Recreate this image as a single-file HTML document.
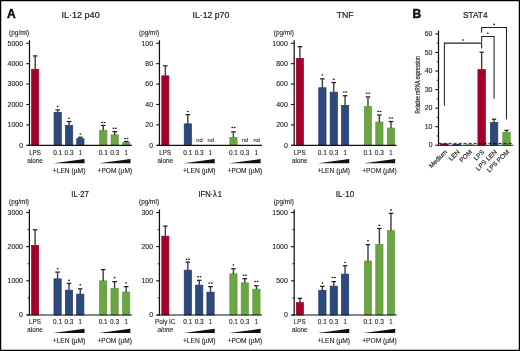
<!DOCTYPE html>
<html><head><meta charset="utf-8"><style>
html,body{margin:0;padding:0;background:#fff;}
svg{display:block;will-change:transform;font-family:"Liberation Sans", sans-serif;}
text{stroke:#1a1a1a;stroke-width:0.1px;paint-order:stroke;}
</style></head><body>
<svg width="520" height="351" viewBox="0 0 520 351">
<rect x="0" y="0" width="520" height="351" fill="#fff"/>
<text x="61.40" y="17.70" font-size="9" text-anchor="start" textLength="38.30" lengthAdjust="spacingAndGlyphs" fill="#1a1a1a" style="stroke-width:0.2px">IL·12 p40</text>
<text x="9.10" y="34.95" font-size="6.4" text-anchor="start" textLength="20.00" lengthAdjust="spacingAndGlyphs" fill="#1a1a1a">(pg/ml)</text>
<rect x="31.65" y="69.25" width="7.10" height="76.05" fill="#a3002a" stroke="#9c0027" stroke-width="0.7"/>
<line x1="35.20" y1="56.30" x2="35.20" y2="69.40" stroke="#3c3c3c" stroke-width="1.4"/>
<rect x="32.90" y="55.30" width="4.60" height="1.25" fill="#1e1e1e"/>
<rect x="54.05" y="112.35" width="7.25" height="32.95" fill="#2e4a7b" stroke="#1f3871" stroke-width="0.7"/>
<line x1="57.68" y1="110.30" x2="57.68" y2="112.50" stroke="#3c3c3c" stroke-width="1.4"/>
<rect x="55.38" y="109.30" width="4.60" height="1.25" fill="#1e1e1e"/>
<ellipse cx="57.68" cy="106.50" rx="0.95" ry="0.8" fill="#1a1a1a"/>
<rect x="65.45" y="125.35" width="7.25" height="19.95" fill="#2e4a7b" stroke="#1f3871" stroke-width="0.7"/>
<line x1="69.07" y1="121.90" x2="69.07" y2="125.50" stroke="#3c3c3c" stroke-width="1.4"/>
<rect x="66.77" y="120.90" width="4.60" height="1.25" fill="#1e1e1e"/>
<ellipse cx="69.07" cy="118.20" rx="0.95" ry="0.8" fill="#1a1a1a"/>
<rect x="76.75" y="138.65" width="7.25" height="6.65" fill="#2e4a7b" stroke="#1f3871" stroke-width="0.7"/>
<line x1="80.38" y1="137.60" x2="80.38" y2="138.80" stroke="#3c3c3c" stroke-width="1.4"/>
<rect x="78.08" y="136.60" width="4.60" height="1.25" fill="#1e1e1e"/>
<ellipse cx="80.38" cy="134.00" rx="0.95" ry="0.8" fill="#1a1a1a"/>
<rect x="99.65" y="130.25" width="7.25" height="15.05" fill="#6ca543" stroke="#5f9c37" stroke-width="0.7"/>
<line x1="103.27" y1="125.80" x2="103.27" y2="130.40" stroke="#3c3c3c" stroke-width="1.4"/>
<rect x="100.97" y="124.80" width="4.60" height="1.25" fill="#1e1e1e"/>
<ellipse cx="102.07" cy="122.40" rx="1.0" ry="0.75" fill="#1a1a1a"/>
<ellipse cx="104.47" cy="122.40" rx="1.0" ry="0.75" fill="#1a1a1a"/>
<rect x="111.05" y="134.85" width="7.25" height="10.45" fill="#6ca543" stroke="#5f9c37" stroke-width="0.7"/>
<line x1="114.67" y1="132.00" x2="114.67" y2="135.00" stroke="#3c3c3c" stroke-width="1.4"/>
<rect x="112.38" y="131.00" width="4.60" height="1.25" fill="#1e1e1e"/>
<ellipse cx="113.47" cy="128.20" rx="1.0" ry="0.75" fill="#1a1a1a"/>
<ellipse cx="115.88" cy="128.20" rx="1.0" ry="0.75" fill="#1a1a1a"/>
<rect x="122.65" y="142.45" width="7.25" height="2.85" fill="#6ca543" stroke="#5f9c37" stroke-width="0.7"/>
<line x1="126.27" y1="141.80" x2="126.27" y2="142.60" stroke="#3c3c3c" stroke-width="1.4"/>
<rect x="123.97" y="140.80" width="4.60" height="1.25" fill="#1e1e1e"/>
<ellipse cx="125.07" cy="138.50" rx="1.0" ry="0.75" fill="#1a1a1a"/>
<ellipse cx="127.47" cy="138.50" rx="1.0" ry="0.75" fill="#1a1a1a"/>
<line x1="29.50" y1="40.25" x2="29.50" y2="145.80" stroke="#111" stroke-width="1.25"/>
<line x1="26.30" y1="145.30" x2="29.50" y2="145.30" stroke="#111" stroke-width="1.1"/>
<text x="23.10" y="147.55" font-size="6.5" text-anchor="end" textLength="3.87" lengthAdjust="spacingAndGlyphs" fill="#1a1a1a">0</text>
<line x1="26.30" y1="124.89" x2="29.50" y2="124.89" stroke="#111" stroke-width="1.1"/>
<text x="23.10" y="127.14" font-size="6.5" text-anchor="end" textLength="15.48" lengthAdjust="spacingAndGlyphs" fill="#1a1a1a">1000</text>
<line x1="26.30" y1="104.48" x2="29.50" y2="104.48" stroke="#111" stroke-width="1.1"/>
<text x="23.10" y="106.73" font-size="6.5" text-anchor="end" textLength="15.48" lengthAdjust="spacingAndGlyphs" fill="#1a1a1a">2000</text>
<line x1="26.30" y1="84.07" x2="29.50" y2="84.07" stroke="#111" stroke-width="1.1"/>
<text x="23.10" y="86.32" font-size="6.5" text-anchor="end" textLength="15.48" lengthAdjust="spacingAndGlyphs" fill="#1a1a1a">3000</text>
<line x1="26.30" y1="63.66" x2="29.50" y2="63.66" stroke="#111" stroke-width="1.1"/>
<text x="23.10" y="65.91" font-size="6.5" text-anchor="end" textLength="15.48" lengthAdjust="spacingAndGlyphs" fill="#1a1a1a">4000</text>
<line x1="26.30" y1="43.25" x2="29.50" y2="43.25" stroke="#111" stroke-width="1.1"/>
<text x="23.10" y="45.50" font-size="6.5" text-anchor="end" textLength="15.48" lengthAdjust="spacingAndGlyphs" fill="#1a1a1a">5000</text>
<line x1="27.40" y1="145.30" x2="132.00" y2="145.30" stroke="#111" stroke-width="1.2"/>
<text x="35.05" y="154.70" font-size="6.3" text-anchor="middle" textLength="11.80" lengthAdjust="spacingAndGlyphs" fill="#1a1a1a">LPS</text>
<text x="35.05" y="162.60" font-size="6.6" text-anchor="middle" textLength="15.40" lengthAdjust="spacingAndGlyphs" fill="#1a1a1a">alone</text>
<text x="57.68" y="154.70" font-size="6.3" text-anchor="middle" textLength="9.00" lengthAdjust="spacingAndGlyphs" fill="#1a1a1a">0.1</text>
<text x="69.07" y="154.70" font-size="6.3" text-anchor="middle" textLength="9.00" lengthAdjust="spacingAndGlyphs" fill="#1a1a1a">0.3</text>
<text x="80.38" y="154.70" font-size="6.3" text-anchor="middle" textLength="3.30" lengthAdjust="spacingAndGlyphs" fill="#1a1a1a">1</text>
<polygon points="53.38,163.30 84.58,159.10 84.58,163.30" fill="#111"/>
<text x="69.08" y="173.30" font-size="6.6" text-anchor="middle" textLength="32.60" lengthAdjust="spacingAndGlyphs" fill="#1a1a1a">+LEN (µM)</text>
<text x="103.27" y="154.70" font-size="6.3" text-anchor="middle" textLength="9.00" lengthAdjust="spacingAndGlyphs" fill="#1a1a1a">0.1</text>
<text x="114.67" y="154.70" font-size="6.3" text-anchor="middle" textLength="9.00" lengthAdjust="spacingAndGlyphs" fill="#1a1a1a">0.3</text>
<text x="126.27" y="154.70" font-size="6.3" text-anchor="middle" textLength="3.30" lengthAdjust="spacingAndGlyphs" fill="#1a1a1a">1</text>
<polygon points="98.97,163.30 130.47,159.10 130.47,163.30" fill="#111"/>
<text x="114.82" y="173.30" font-size="6.6" text-anchor="middle" textLength="34.60" lengthAdjust="spacingAndGlyphs" fill="#1a1a1a">+POM (µM)</text>
<text x="192.50" y="17.70" font-size="9" text-anchor="start" textLength="36.80" lengthAdjust="spacingAndGlyphs" fill="#1a1a1a" style="stroke-width:0.2px">IL·12 p70</text>
<text x="139.05" y="34.95" font-size="6.4" text-anchor="start" textLength="20.00" lengthAdjust="spacingAndGlyphs" fill="#1a1a1a">(pg/ml)</text>
<rect x="161.80" y="75.85" width="7.10" height="69.45" fill="#a3002a" stroke="#9c0027" stroke-width="0.7"/>
<line x1="165.35" y1="66.20" x2="165.35" y2="76.00" stroke="#3c3c3c" stroke-width="1.4"/>
<rect x="163.05" y="65.20" width="4.60" height="1.25" fill="#1e1e1e"/>
<rect x="184.20" y="123.85" width="7.25" height="21.45" fill="#2e4a7b" stroke="#1f3871" stroke-width="0.7"/>
<line x1="187.82" y1="115.00" x2="187.82" y2="124.00" stroke="#3c3c3c" stroke-width="1.4"/>
<rect x="185.52" y="114.00" width="4.60" height="1.25" fill="#1e1e1e"/>
<ellipse cx="187.82" cy="111.50" rx="0.95" ry="0.8" fill="#1a1a1a"/>
<rect x="229.80" y="137.35" width="7.25" height="7.95" fill="#6ca543" stroke="#5f9c37" stroke-width="0.7"/>
<line x1="233.42" y1="132.20" x2="233.42" y2="137.50" stroke="#3c3c3c" stroke-width="1.4"/>
<rect x="231.12" y="131.20" width="4.60" height="1.25" fill="#1e1e1e"/>
<ellipse cx="232.22" cy="127.60" rx="1.0" ry="0.75" fill="#1a1a1a"/>
<ellipse cx="234.62" cy="127.60" rx="1.0" ry="0.75" fill="#1a1a1a"/>
<text x="199.52" y="142.30" font-size="5.8" text-anchor="middle" fill="#333">nd</text>
<text x="210.82" y="142.30" font-size="5.8" text-anchor="middle" fill="#333">nd</text>
<text x="245.12" y="142.30" font-size="5.8" text-anchor="middle" fill="#333">nd</text>
<text x="256.73" y="142.30" font-size="5.8" text-anchor="middle" fill="#333">nd</text>
<line x1="159.45" y1="40.25" x2="159.45" y2="145.80" stroke="#111" stroke-width="1.25"/>
<line x1="156.25" y1="145.30" x2="159.45" y2="145.30" stroke="#111" stroke-width="1.1"/>
<text x="153.05" y="147.55" font-size="6.5" text-anchor="end" textLength="3.87" lengthAdjust="spacingAndGlyphs" fill="#1a1a1a">0</text>
<line x1="156.25" y1="124.89" x2="159.45" y2="124.89" stroke="#111" stroke-width="1.1"/>
<text x="153.05" y="127.14" font-size="6.5" text-anchor="end" textLength="7.74" lengthAdjust="spacingAndGlyphs" fill="#1a1a1a">20</text>
<line x1="156.25" y1="104.48" x2="159.45" y2="104.48" stroke="#111" stroke-width="1.1"/>
<text x="153.05" y="106.73" font-size="6.5" text-anchor="end" textLength="7.74" lengthAdjust="spacingAndGlyphs" fill="#1a1a1a">40</text>
<line x1="156.25" y1="84.07" x2="159.45" y2="84.07" stroke="#111" stroke-width="1.1"/>
<text x="153.05" y="86.32" font-size="6.5" text-anchor="end" textLength="7.74" lengthAdjust="spacingAndGlyphs" fill="#1a1a1a">60</text>
<line x1="156.25" y1="63.66" x2="159.45" y2="63.66" stroke="#111" stroke-width="1.1"/>
<text x="153.05" y="65.91" font-size="6.5" text-anchor="end" textLength="7.74" lengthAdjust="spacingAndGlyphs" fill="#1a1a1a">80</text>
<line x1="156.25" y1="43.25" x2="159.45" y2="43.25" stroke="#111" stroke-width="1.1"/>
<text x="153.05" y="45.50" font-size="6.5" text-anchor="end" textLength="11.61" lengthAdjust="spacingAndGlyphs" fill="#1a1a1a">100</text>
<line x1="157.35" y1="145.30" x2="261.95" y2="145.30" stroke="#111" stroke-width="1.2"/>
<text x="165.20" y="154.70" font-size="6.3" text-anchor="middle" textLength="11.80" lengthAdjust="spacingAndGlyphs" fill="#1a1a1a">LPS</text>
<text x="165.20" y="162.60" font-size="6.6" text-anchor="middle" textLength="15.40" lengthAdjust="spacingAndGlyphs" fill="#1a1a1a">alone</text>
<text x="187.82" y="154.70" font-size="6.3" text-anchor="middle" textLength="9.00" lengthAdjust="spacingAndGlyphs" fill="#1a1a1a">0.1</text>
<text x="199.22" y="154.70" font-size="6.3" text-anchor="middle" textLength="9.00" lengthAdjust="spacingAndGlyphs" fill="#1a1a1a">0.3</text>
<text x="210.52" y="154.70" font-size="6.3" text-anchor="middle" textLength="3.30" lengthAdjust="spacingAndGlyphs" fill="#1a1a1a">1</text>
<polygon points="183.52,163.30 214.72,159.10 214.72,163.30" fill="#111"/>
<text x="199.22" y="173.30" font-size="6.6" text-anchor="middle" textLength="32.60" lengthAdjust="spacingAndGlyphs" fill="#1a1a1a">+LEN (µM)</text>
<text x="233.42" y="154.70" font-size="6.3" text-anchor="middle" textLength="9.00" lengthAdjust="spacingAndGlyphs" fill="#1a1a1a">0.1</text>
<text x="244.82" y="154.70" font-size="6.3" text-anchor="middle" textLength="9.00" lengthAdjust="spacingAndGlyphs" fill="#1a1a1a">0.3</text>
<text x="256.43" y="154.70" font-size="6.3" text-anchor="middle" textLength="3.30" lengthAdjust="spacingAndGlyphs" fill="#1a1a1a">1</text>
<polygon points="229.12,163.30 260.62,159.10 260.62,163.30" fill="#111"/>
<text x="244.97" y="173.30" font-size="6.6" text-anchor="middle" textLength="34.60" lengthAdjust="spacingAndGlyphs" fill="#1a1a1a">+POM (µM)</text>
<text x="336.70" y="17.70" font-size="9" text-anchor="start" textLength="16.70" lengthAdjust="spacingAndGlyphs" fill="#1a1a1a" style="stroke-width:0.2px">TNF</text>
<text x="273.80" y="34.95" font-size="6.4" text-anchor="start" textLength="20.00" lengthAdjust="spacingAndGlyphs" fill="#1a1a1a">(pg/ml)</text>
<rect x="296.35" y="58.35" width="7.10" height="86.95" fill="#a3002a" stroke="#9c0027" stroke-width="0.7"/>
<line x1="299.90" y1="47.00" x2="299.90" y2="58.50" stroke="#3c3c3c" stroke-width="1.4"/>
<rect x="297.60" y="46.00" width="4.60" height="1.25" fill="#1e1e1e"/>
<rect x="318.75" y="87.75" width="7.25" height="57.55" fill="#2e4a7b" stroke="#1f3871" stroke-width="0.7"/>
<line x1="322.38" y1="79.20" x2="322.38" y2="87.90" stroke="#3c3c3c" stroke-width="1.4"/>
<rect x="320.07" y="78.20" width="4.60" height="1.25" fill="#1e1e1e"/>
<ellipse cx="322.38" cy="75.00" rx="0.95" ry="0.8" fill="#1a1a1a"/>
<rect x="330.15" y="92.15" width="7.25" height="53.15" fill="#2e4a7b" stroke="#1f3871" stroke-width="0.7"/>
<line x1="333.78" y1="82.90" x2="333.78" y2="92.30" stroke="#3c3c3c" stroke-width="1.4"/>
<rect x="331.48" y="81.90" width="4.60" height="1.25" fill="#1e1e1e"/>
<ellipse cx="333.78" cy="79.40" rx="0.95" ry="0.8" fill="#1a1a1a"/>
<rect x="341.45" y="105.45" width="7.25" height="39.85" fill="#2e4a7b" stroke="#1f3871" stroke-width="0.7"/>
<line x1="345.07" y1="96.10" x2="345.07" y2="105.60" stroke="#3c3c3c" stroke-width="1.4"/>
<rect x="342.77" y="95.10" width="4.60" height="1.25" fill="#1e1e1e"/>
<ellipse cx="343.88" cy="91.90" rx="1.0" ry="0.75" fill="#1a1a1a"/>
<ellipse cx="346.27" cy="91.90" rx="1.0" ry="0.75" fill="#1a1a1a"/>
<rect x="364.35" y="106.35" width="7.25" height="38.95" fill="#6ca543" stroke="#5f9c37" stroke-width="0.7"/>
<line x1="367.98" y1="97.30" x2="367.98" y2="106.50" stroke="#3c3c3c" stroke-width="1.4"/>
<rect x="365.68" y="96.30" width="4.60" height="1.25" fill="#1e1e1e"/>
<ellipse cx="366.78" cy="93.20" rx="1.0" ry="0.75" fill="#1a1a1a"/>
<ellipse cx="369.18" cy="93.20" rx="1.0" ry="0.75" fill="#1a1a1a"/>
<rect x="375.75" y="122.05" width="7.25" height="23.25" fill="#6ca543" stroke="#5f9c37" stroke-width="0.7"/>
<line x1="379.38" y1="115.40" x2="379.38" y2="122.20" stroke="#3c3c3c" stroke-width="1.4"/>
<rect x="377.07" y="114.40" width="4.60" height="1.25" fill="#1e1e1e"/>
<ellipse cx="378.18" cy="111.40" rx="1.0" ry="0.75" fill="#1a1a1a"/>
<ellipse cx="380.57" cy="111.40" rx="1.0" ry="0.75" fill="#1a1a1a"/>
<rect x="387.35" y="128.05" width="7.25" height="17.25" fill="#6ca543" stroke="#5f9c37" stroke-width="0.7"/>
<line x1="390.98" y1="121.90" x2="390.98" y2="128.20" stroke="#3c3c3c" stroke-width="1.4"/>
<rect x="388.68" y="120.90" width="4.60" height="1.25" fill="#1e1e1e"/>
<ellipse cx="389.78" cy="118.00" rx="1.0" ry="0.75" fill="#1a1a1a"/>
<ellipse cx="392.18" cy="118.00" rx="1.0" ry="0.75" fill="#1a1a1a"/>
<line x1="294.20" y1="40.25" x2="294.20" y2="145.80" stroke="#111" stroke-width="1.25"/>
<line x1="291.00" y1="145.30" x2="294.20" y2="145.30" stroke="#111" stroke-width="1.1"/>
<text x="287.80" y="147.55" font-size="6.5" text-anchor="end" textLength="3.87" lengthAdjust="spacingAndGlyphs" fill="#1a1a1a">0</text>
<line x1="291.00" y1="124.89" x2="294.20" y2="124.89" stroke="#111" stroke-width="1.1"/>
<text x="287.80" y="127.14" font-size="6.5" text-anchor="end" textLength="11.61" lengthAdjust="spacingAndGlyphs" fill="#1a1a1a">200</text>
<line x1="291.00" y1="104.48" x2="294.20" y2="104.48" stroke="#111" stroke-width="1.1"/>
<text x="287.80" y="106.73" font-size="6.5" text-anchor="end" textLength="11.61" lengthAdjust="spacingAndGlyphs" fill="#1a1a1a">400</text>
<line x1="291.00" y1="84.07" x2="294.20" y2="84.07" stroke="#111" stroke-width="1.1"/>
<text x="287.80" y="86.32" font-size="6.5" text-anchor="end" textLength="11.61" lengthAdjust="spacingAndGlyphs" fill="#1a1a1a">600</text>
<line x1="291.00" y1="63.66" x2="294.20" y2="63.66" stroke="#111" stroke-width="1.1"/>
<text x="287.80" y="65.91" font-size="6.5" text-anchor="end" textLength="11.61" lengthAdjust="spacingAndGlyphs" fill="#1a1a1a">800</text>
<line x1="291.00" y1="43.25" x2="294.20" y2="43.25" stroke="#111" stroke-width="1.1"/>
<text x="287.80" y="45.50" font-size="6.5" text-anchor="end" textLength="15.48" lengthAdjust="spacingAndGlyphs" fill="#1a1a1a">1000</text>
<line x1="292.10" y1="145.30" x2="396.70" y2="145.30" stroke="#111" stroke-width="1.2"/>
<text x="299.75" y="154.70" font-size="6.3" text-anchor="middle" textLength="11.80" lengthAdjust="spacingAndGlyphs" fill="#1a1a1a">LPS</text>
<text x="299.75" y="162.60" font-size="6.6" text-anchor="middle" textLength="15.40" lengthAdjust="spacingAndGlyphs" fill="#1a1a1a">alone</text>
<text x="322.38" y="154.70" font-size="6.3" text-anchor="middle" textLength="9.00" lengthAdjust="spacingAndGlyphs" fill="#1a1a1a">0.1</text>
<text x="333.78" y="154.70" font-size="6.3" text-anchor="middle" textLength="9.00" lengthAdjust="spacingAndGlyphs" fill="#1a1a1a">0.3</text>
<text x="345.07" y="154.70" font-size="6.3" text-anchor="middle" textLength="3.30" lengthAdjust="spacingAndGlyphs" fill="#1a1a1a">1</text>
<polygon points="318.07,163.30 349.27,159.10 349.27,163.30" fill="#111"/>
<text x="333.77" y="173.30" font-size="6.6" text-anchor="middle" textLength="32.60" lengthAdjust="spacingAndGlyphs" fill="#1a1a1a">+LEN (µM)</text>
<text x="367.98" y="154.70" font-size="6.3" text-anchor="middle" textLength="9.00" lengthAdjust="spacingAndGlyphs" fill="#1a1a1a">0.1</text>
<text x="379.38" y="154.70" font-size="6.3" text-anchor="middle" textLength="9.00" lengthAdjust="spacingAndGlyphs" fill="#1a1a1a">0.3</text>
<text x="390.98" y="154.70" font-size="6.3" text-anchor="middle" textLength="3.30" lengthAdjust="spacingAndGlyphs" fill="#1a1a1a">1</text>
<polygon points="363.68,163.30 395.18,159.10 395.18,163.30" fill="#111"/>
<text x="379.53" y="173.30" font-size="6.6" text-anchor="middle" textLength="34.60" lengthAdjust="spacingAndGlyphs" fill="#1a1a1a">+POM (µM)</text>
<text x="71.30" y="197.00" font-size="9" text-anchor="start" textLength="17.60" lengthAdjust="spacingAndGlyphs" fill="#1a1a1a" style="stroke-width:0.2px">IL·27</text>
<text x="9.00" y="204.20" font-size="6.4" text-anchor="start" textLength="20.00" lengthAdjust="spacingAndGlyphs" fill="#1a1a1a">(pg/ml)</text>
<rect x="31.55" y="245.35" width="7.10" height="69.65" fill="#a3002a" stroke="#9c0027" stroke-width="0.7"/>
<line x1="35.10" y1="230.10" x2="35.10" y2="245.50" stroke="#3c3c3c" stroke-width="1.4"/>
<rect x="32.80" y="229.10" width="4.60" height="1.25" fill="#1e1e1e"/>
<rect x="53.95" y="278.85" width="7.25" height="36.15" fill="#2e4a7b" stroke="#1f3871" stroke-width="0.7"/>
<line x1="57.57" y1="272.50" x2="57.57" y2="279.00" stroke="#3c3c3c" stroke-width="1.4"/>
<rect x="55.27" y="271.50" width="4.60" height="1.25" fill="#1e1e1e"/>
<ellipse cx="57.57" cy="268.70" rx="0.95" ry="0.8" fill="#1a1a1a"/>
<rect x="65.35" y="290.15" width="7.25" height="24.85" fill="#2e4a7b" stroke="#1f3871" stroke-width="0.7"/>
<line x1="68.97" y1="283.70" x2="68.97" y2="290.30" stroke="#3c3c3c" stroke-width="1.4"/>
<rect x="66.67" y="282.70" width="4.60" height="1.25" fill="#1e1e1e"/>
<ellipse cx="68.97" cy="280.40" rx="0.95" ry="0.8" fill="#1a1a1a"/>
<rect x="76.65" y="294.15" width="7.25" height="20.85" fill="#2e4a7b" stroke="#1f3871" stroke-width="0.7"/>
<line x1="80.27" y1="289.20" x2="80.27" y2="294.30" stroke="#3c3c3c" stroke-width="1.4"/>
<rect x="77.97" y="288.20" width="4.60" height="1.25" fill="#1e1e1e"/>
<ellipse cx="80.27" cy="284.80" rx="0.95" ry="0.8" fill="#1a1a1a"/>
<rect x="99.55" y="280.85" width="7.25" height="34.15" fill="#6ca543" stroke="#5f9c37" stroke-width="0.7"/>
<line x1="103.17" y1="270.00" x2="103.17" y2="281.00" stroke="#3c3c3c" stroke-width="1.4"/>
<rect x="100.87" y="269.00" width="4.60" height="1.25" fill="#1e1e1e"/>
<rect x="110.95" y="288.35" width="7.25" height="26.65" fill="#6ca543" stroke="#5f9c37" stroke-width="0.7"/>
<line x1="114.57" y1="282.00" x2="114.57" y2="288.50" stroke="#3c3c3c" stroke-width="1.4"/>
<rect x="112.27" y="281.00" width="4.60" height="1.25" fill="#1e1e1e"/>
<ellipse cx="114.57" cy="277.60" rx="0.95" ry="0.8" fill="#1a1a1a"/>
<rect x="122.55" y="292.05" width="7.25" height="22.95" fill="#6ca543" stroke="#5f9c37" stroke-width="0.7"/>
<line x1="126.17" y1="287.00" x2="126.17" y2="292.20" stroke="#3c3c3c" stroke-width="1.4"/>
<rect x="123.87" y="286.00" width="4.60" height="1.25" fill="#1e1e1e"/>
<ellipse cx="126.17" cy="283.00" rx="0.95" ry="0.8" fill="#1a1a1a"/>
<line x1="29.40" y1="209.50" x2="29.40" y2="315.50" stroke="#111" stroke-width="1.25"/>
<line x1="26.20" y1="315.00" x2="29.40" y2="315.00" stroke="#111" stroke-width="1.1"/>
<text x="23.00" y="317.25" font-size="6.5" text-anchor="end" textLength="3.87" lengthAdjust="spacingAndGlyphs" fill="#1a1a1a">0</text>
<line x1="26.20" y1="280.83" x2="29.40" y2="280.83" stroke="#111" stroke-width="1.1"/>
<text x="23.00" y="283.08" font-size="6.5" text-anchor="end" textLength="15.48" lengthAdjust="spacingAndGlyphs" fill="#1a1a1a">1000</text>
<line x1="26.20" y1="246.67" x2="29.40" y2="246.67" stroke="#111" stroke-width="1.1"/>
<text x="23.00" y="248.92" font-size="6.5" text-anchor="end" textLength="15.48" lengthAdjust="spacingAndGlyphs" fill="#1a1a1a">2000</text>
<line x1="26.20" y1="212.50" x2="29.40" y2="212.50" stroke="#111" stroke-width="1.1"/>
<text x="23.00" y="214.75" font-size="6.5" text-anchor="end" textLength="15.48" lengthAdjust="spacingAndGlyphs" fill="#1a1a1a">3000</text>
<line x1="27.70" y1="297.92" x2="29.40" y2="297.92" stroke="#111" stroke-width="1.0"/>
<line x1="27.70" y1="263.75" x2="29.40" y2="263.75" stroke="#111" stroke-width="1.0"/>
<line x1="27.70" y1="229.58" x2="29.40" y2="229.58" stroke="#111" stroke-width="1.0"/>
<line x1="27.30" y1="315.00" x2="131.90" y2="315.00" stroke="#111" stroke-width="1.2"/>
<text x="34.95" y="324.40" font-size="6.3" text-anchor="middle" textLength="11.80" lengthAdjust="spacingAndGlyphs" fill="#1a1a1a">LPS</text>
<text x="34.95" y="332.30" font-size="6.6" text-anchor="middle" textLength="15.40" lengthAdjust="spacingAndGlyphs" fill="#1a1a1a">alone</text>
<text x="57.57" y="324.40" font-size="6.3" text-anchor="middle" textLength="9.00" lengthAdjust="spacingAndGlyphs" fill="#1a1a1a">0.1</text>
<text x="68.97" y="324.40" font-size="6.3" text-anchor="middle" textLength="9.00" lengthAdjust="spacingAndGlyphs" fill="#1a1a1a">0.3</text>
<text x="80.27" y="324.40" font-size="6.3" text-anchor="middle" textLength="3.30" lengthAdjust="spacingAndGlyphs" fill="#1a1a1a">1</text>
<polygon points="53.27,333.00 84.47,328.80 84.47,333.00" fill="#111"/>
<text x="68.97" y="343.00" font-size="6.6" text-anchor="middle" textLength="32.60" lengthAdjust="spacingAndGlyphs" fill="#1a1a1a">+LEN (µM)</text>
<text x="103.17" y="324.40" font-size="6.3" text-anchor="middle" textLength="9.00" lengthAdjust="spacingAndGlyphs" fill="#1a1a1a">0.1</text>
<text x="114.57" y="324.40" font-size="6.3" text-anchor="middle" textLength="9.00" lengthAdjust="spacingAndGlyphs" fill="#1a1a1a">0.3</text>
<text x="126.17" y="324.40" font-size="6.3" text-anchor="middle" textLength="3.30" lengthAdjust="spacingAndGlyphs" fill="#1a1a1a">1</text>
<polygon points="98.87,333.00 130.37,328.80 130.37,333.00" fill="#111"/>
<text x="114.72" y="343.00" font-size="6.6" text-anchor="middle" textLength="34.60" lengthAdjust="spacingAndGlyphs" fill="#1a1a1a">+POM (µM)</text>
<text x="198.50" y="197.00" font-size="9" text-anchor="start" textLength="23.50" lengthAdjust="spacingAndGlyphs" fill="#1a1a1a" style="stroke-width:0.2px">IFN·λ<tspan dx="1.2">1</tspan></text>
<text x="139.05" y="204.20" font-size="6.4" text-anchor="start" textLength="20.00" lengthAdjust="spacingAndGlyphs" fill="#1a1a1a">(pg/ml)</text>
<rect x="161.80" y="236.15" width="7.10" height="78.85" fill="#a3002a" stroke="#9c0027" stroke-width="0.7"/>
<line x1="165.35" y1="226.50" x2="165.35" y2="236.30" stroke="#3c3c3c" stroke-width="1.4"/>
<rect x="163.05" y="225.50" width="4.60" height="1.25" fill="#1e1e1e"/>
<rect x="184.20" y="270.15" width="7.25" height="44.85" fill="#2e4a7b" stroke="#1f3871" stroke-width="0.7"/>
<line x1="187.82" y1="262.50" x2="187.82" y2="270.30" stroke="#3c3c3c" stroke-width="1.4"/>
<rect x="185.52" y="261.50" width="4.60" height="1.25" fill="#1e1e1e"/>
<ellipse cx="186.62" cy="259.20" rx="1.0" ry="0.75" fill="#1a1a1a"/>
<ellipse cx="189.02" cy="259.20" rx="1.0" ry="0.75" fill="#1a1a1a"/>
<rect x="195.60" y="285.15" width="7.25" height="29.85" fill="#2e4a7b" stroke="#1f3871" stroke-width="0.7"/>
<line x1="199.22" y1="280.70" x2="199.22" y2="285.30" stroke="#3c3c3c" stroke-width="1.4"/>
<rect x="196.92" y="279.70" width="4.60" height="1.25" fill="#1e1e1e"/>
<ellipse cx="198.02" cy="276.80" rx="1.0" ry="0.75" fill="#1a1a1a"/>
<ellipse cx="200.42" cy="276.80" rx="1.0" ry="0.75" fill="#1a1a1a"/>
<rect x="206.90" y="292.15" width="7.25" height="22.85" fill="#2e4a7b" stroke="#1f3871" stroke-width="0.7"/>
<line x1="210.52" y1="287.00" x2="210.52" y2="292.30" stroke="#3c3c3c" stroke-width="1.4"/>
<rect x="208.22" y="286.00" width="4.60" height="1.25" fill="#1e1e1e"/>
<ellipse cx="209.32" cy="283.00" rx="1.0" ry="0.75" fill="#1a1a1a"/>
<ellipse cx="211.72" cy="283.00" rx="1.0" ry="0.75" fill="#1a1a1a"/>
<rect x="229.80" y="273.85" width="7.25" height="41.15" fill="#6ca543" stroke="#5f9c37" stroke-width="0.7"/>
<line x1="233.42" y1="269.10" x2="233.42" y2="274.00" stroke="#3c3c3c" stroke-width="1.4"/>
<rect x="231.12" y="268.10" width="4.60" height="1.25" fill="#1e1e1e"/>
<ellipse cx="233.42" cy="265.00" rx="0.95" ry="0.8" fill="#1a1a1a"/>
<rect x="241.20" y="282.85" width="7.25" height="32.15" fill="#6ca543" stroke="#5f9c37" stroke-width="0.7"/>
<line x1="244.82" y1="279.10" x2="244.82" y2="283.00" stroke="#3c3c3c" stroke-width="1.4"/>
<rect x="242.52" y="278.10" width="4.60" height="1.25" fill="#1e1e1e"/>
<ellipse cx="243.62" cy="275.20" rx="1.0" ry="0.75" fill="#1a1a1a"/>
<ellipse cx="246.02" cy="275.20" rx="1.0" ry="0.75" fill="#1a1a1a"/>
<rect x="252.80" y="289.15" width="7.25" height="25.85" fill="#6ca543" stroke="#5f9c37" stroke-width="0.7"/>
<line x1="256.43" y1="286.20" x2="256.43" y2="289.30" stroke="#3c3c3c" stroke-width="1.4"/>
<rect x="254.12" y="285.20" width="4.60" height="1.25" fill="#1e1e1e"/>
<ellipse cx="255.23" cy="281.60" rx="1.0" ry="0.75" fill="#1a1a1a"/>
<ellipse cx="257.62" cy="281.60" rx="1.0" ry="0.75" fill="#1a1a1a"/>
<line x1="159.45" y1="209.50" x2="159.45" y2="315.50" stroke="#111" stroke-width="1.25"/>
<line x1="156.25" y1="315.00" x2="159.45" y2="315.00" stroke="#111" stroke-width="1.1"/>
<text x="153.05" y="317.25" font-size="6.5" text-anchor="end" textLength="3.87" lengthAdjust="spacingAndGlyphs" fill="#1a1a1a">0</text>
<line x1="156.25" y1="280.83" x2="159.45" y2="280.83" stroke="#111" stroke-width="1.1"/>
<text x="153.05" y="283.08" font-size="6.5" text-anchor="end" textLength="11.61" lengthAdjust="spacingAndGlyphs" fill="#1a1a1a">100</text>
<line x1="156.25" y1="246.67" x2="159.45" y2="246.67" stroke="#111" stroke-width="1.1"/>
<text x="153.05" y="248.92" font-size="6.5" text-anchor="end" textLength="11.61" lengthAdjust="spacingAndGlyphs" fill="#1a1a1a">200</text>
<line x1="156.25" y1="212.50" x2="159.45" y2="212.50" stroke="#111" stroke-width="1.1"/>
<text x="153.05" y="214.75" font-size="6.5" text-anchor="end" textLength="11.61" lengthAdjust="spacingAndGlyphs" fill="#1a1a1a">300</text>
<line x1="157.75" y1="297.92" x2="159.45" y2="297.92" stroke="#111" stroke-width="1.0"/>
<line x1="157.75" y1="263.75" x2="159.45" y2="263.75" stroke="#111" stroke-width="1.0"/>
<line x1="157.75" y1="229.58" x2="159.45" y2="229.58" stroke="#111" stroke-width="1.0"/>
<line x1="157.35" y1="315.00" x2="261.95" y2="315.00" stroke="#111" stroke-width="1.2"/>
<text x="165.20" y="324.40" font-size="6.3" text-anchor="middle" textLength="20.60" lengthAdjust="spacingAndGlyphs" fill="#1a1a1a">Poly IC</text>
<text x="165.20" y="332.30" font-size="6.6" text-anchor="middle" textLength="15.40" lengthAdjust="spacingAndGlyphs" font-style="italic" fill="#1a1a1a">alone</text>
<text x="187.82" y="324.40" font-size="6.3" text-anchor="middle" textLength="9.00" lengthAdjust="spacingAndGlyphs" fill="#1a1a1a">0.1</text>
<text x="199.22" y="324.40" font-size="6.3" text-anchor="middle" textLength="9.00" lengthAdjust="spacingAndGlyphs" fill="#1a1a1a">0.3</text>
<text x="210.52" y="324.40" font-size="6.3" text-anchor="middle" textLength="3.30" lengthAdjust="spacingAndGlyphs" fill="#1a1a1a">1</text>
<polygon points="183.52,333.00 214.72,328.80 214.72,333.00" fill="#111"/>
<text x="199.22" y="343.00" font-size="6.6" text-anchor="middle" textLength="32.60" lengthAdjust="spacingAndGlyphs" fill="#1a1a1a">+LEN (µM)</text>
<text x="233.42" y="324.40" font-size="6.3" text-anchor="middle" textLength="9.00" lengthAdjust="spacingAndGlyphs" fill="#1a1a1a">0.1</text>
<text x="244.82" y="324.40" font-size="6.3" text-anchor="middle" textLength="9.00" lengthAdjust="spacingAndGlyphs" fill="#1a1a1a">0.3</text>
<text x="256.43" y="324.40" font-size="6.3" text-anchor="middle" textLength="3.30" lengthAdjust="spacingAndGlyphs" fill="#1a1a1a">1</text>
<polygon points="229.12,333.00 260.62,328.80 260.62,333.00" fill="#111"/>
<text x="244.97" y="343.00" font-size="6.6" text-anchor="middle" textLength="34.60" lengthAdjust="spacingAndGlyphs" fill="#1a1a1a">+POM (µM)</text>
<text x="335.80" y="197.00" font-size="9" text-anchor="start" textLength="18.40" lengthAdjust="spacingAndGlyphs" fill="#1a1a1a" style="stroke-width:0.2px">IL·10</text>
<text x="273.80" y="204.20" font-size="6.4" text-anchor="start" textLength="20.00" lengthAdjust="spacingAndGlyphs" fill="#1a1a1a">(pg/ml)</text>
<rect x="296.35" y="302.65" width="7.10" height="12.35" fill="#a3002a" stroke="#9c0027" stroke-width="0.7"/>
<line x1="299.90" y1="298.70" x2="299.90" y2="302.80" stroke="#3c3c3c" stroke-width="1.4"/>
<rect x="297.60" y="297.70" width="4.60" height="1.25" fill="#1e1e1e"/>
<rect x="318.75" y="290.35" width="7.25" height="24.65" fill="#2e4a7b" stroke="#1f3871" stroke-width="0.7"/>
<line x1="322.38" y1="286.70" x2="322.38" y2="290.50" stroke="#3c3c3c" stroke-width="1.4"/>
<rect x="320.07" y="285.70" width="4.60" height="1.25" fill="#1e1e1e"/>
<ellipse cx="322.38" cy="283.00" rx="0.95" ry="0.8" fill="#1a1a1a"/>
<rect x="330.15" y="286.15" width="7.25" height="28.85" fill="#2e4a7b" stroke="#1f3871" stroke-width="0.7"/>
<line x1="333.78" y1="282.00" x2="333.78" y2="286.30" stroke="#3c3c3c" stroke-width="1.4"/>
<rect x="331.48" y="281.00" width="4.60" height="1.25" fill="#1e1e1e"/>
<ellipse cx="332.58" cy="277.60" rx="1.0" ry="0.75" fill="#1a1a1a"/>
<ellipse cx="334.98" cy="277.60" rx="1.0" ry="0.75" fill="#1a1a1a"/>
<rect x="341.45" y="274.15" width="7.25" height="40.85" fill="#2e4a7b" stroke="#1f3871" stroke-width="0.7"/>
<line x1="345.07" y1="266.10" x2="345.07" y2="274.30" stroke="#3c3c3c" stroke-width="1.4"/>
<rect x="342.77" y="265.10" width="4.60" height="1.25" fill="#1e1e1e"/>
<ellipse cx="345.07" cy="262.50" rx="0.95" ry="0.8" fill="#1a1a1a"/>
<rect x="364.35" y="261.05" width="7.25" height="53.95" fill="#6ca543" stroke="#5f9c37" stroke-width="0.7"/>
<line x1="367.98" y1="245.10" x2="367.98" y2="261.20" stroke="#3c3c3c" stroke-width="1.4"/>
<rect x="365.68" y="244.10" width="4.60" height="1.25" fill="#1e1e1e"/>
<ellipse cx="367.98" cy="240.80" rx="0.95" ry="0.8" fill="#1a1a1a"/>
<rect x="375.75" y="244.35" width="7.25" height="70.65" fill="#6ca543" stroke="#5f9c37" stroke-width="0.7"/>
<line x1="379.38" y1="228.90" x2="379.38" y2="244.50" stroke="#3c3c3c" stroke-width="1.4"/>
<rect x="377.07" y="227.90" width="4.60" height="1.25" fill="#1e1e1e"/>
<ellipse cx="379.38" cy="225.40" rx="0.95" ry="0.8" fill="#1a1a1a"/>
<rect x="387.35" y="230.65" width="7.25" height="84.35" fill="#6ca543" stroke="#5f9c37" stroke-width="0.7"/>
<line x1="390.98" y1="213.70" x2="390.98" y2="230.80" stroke="#3c3c3c" stroke-width="1.4"/>
<rect x="388.68" y="212.70" width="4.60" height="1.25" fill="#1e1e1e"/>
<ellipse cx="390.98" cy="209.90" rx="0.95" ry="0.8" fill="#1a1a1a"/>
<line x1="294.20" y1="209.50" x2="294.20" y2="315.50" stroke="#111" stroke-width="1.25"/>
<line x1="291.00" y1="315.00" x2="294.20" y2="315.00" stroke="#111" stroke-width="1.1"/>
<text x="287.80" y="317.25" font-size="6.5" text-anchor="end" textLength="3.87" lengthAdjust="spacingAndGlyphs" fill="#1a1a1a">0</text>
<line x1="291.00" y1="280.83" x2="294.20" y2="280.83" stroke="#111" stroke-width="1.1"/>
<text x="287.80" y="283.08" font-size="6.5" text-anchor="end" textLength="11.61" lengthAdjust="spacingAndGlyphs" fill="#1a1a1a">500</text>
<line x1="291.00" y1="246.67" x2="294.20" y2="246.67" stroke="#111" stroke-width="1.1"/>
<text x="287.80" y="248.92" font-size="6.5" text-anchor="end" textLength="15.48" lengthAdjust="spacingAndGlyphs" fill="#1a1a1a">1000</text>
<line x1="291.00" y1="212.50" x2="294.20" y2="212.50" stroke="#111" stroke-width="1.1"/>
<text x="287.80" y="214.75" font-size="6.5" text-anchor="end" textLength="15.48" lengthAdjust="spacingAndGlyphs" fill="#1a1a1a">1500</text>
<line x1="292.50" y1="297.92" x2="294.20" y2="297.92" stroke="#111" stroke-width="1.0"/>
<line x1="292.50" y1="263.75" x2="294.20" y2="263.75" stroke="#111" stroke-width="1.0"/>
<line x1="292.50" y1="229.58" x2="294.20" y2="229.58" stroke="#111" stroke-width="1.0"/>
<line x1="292.10" y1="315.00" x2="396.70" y2="315.00" stroke="#111" stroke-width="1.2"/>
<text x="299.75" y="324.40" font-size="6.3" text-anchor="middle" textLength="11.80" lengthAdjust="spacingAndGlyphs" fill="#1a1a1a">LPS</text>
<text x="299.75" y="332.30" font-size="6.6" text-anchor="middle" textLength="15.40" lengthAdjust="spacingAndGlyphs" fill="#1a1a1a">alone</text>
<text x="322.38" y="324.40" font-size="6.3" text-anchor="middle" textLength="9.00" lengthAdjust="spacingAndGlyphs" fill="#1a1a1a">0.1</text>
<text x="333.78" y="324.40" font-size="6.3" text-anchor="middle" textLength="9.00" lengthAdjust="spacingAndGlyphs" fill="#1a1a1a">0.3</text>
<text x="345.07" y="324.40" font-size="6.3" text-anchor="middle" textLength="3.30" lengthAdjust="spacingAndGlyphs" fill="#1a1a1a">1</text>
<polygon points="318.07,333.00 349.27,328.80 349.27,333.00" fill="#111"/>
<text x="333.77" y="343.00" font-size="6.6" text-anchor="middle" textLength="32.60" lengthAdjust="spacingAndGlyphs" fill="#1a1a1a">+LEN (µM)</text>
<text x="367.98" y="324.40" font-size="6.3" text-anchor="middle" textLength="9.00" lengthAdjust="spacingAndGlyphs" fill="#1a1a1a">0.1</text>
<text x="379.38" y="324.40" font-size="6.3" text-anchor="middle" textLength="9.00" lengthAdjust="spacingAndGlyphs" fill="#1a1a1a">0.3</text>
<text x="390.98" y="324.40" font-size="6.3" text-anchor="middle" textLength="3.30" lengthAdjust="spacingAndGlyphs" fill="#1a1a1a">1</text>
<polygon points="363.68,333.00 395.18,328.80 395.18,333.00" fill="#111"/>
<text x="379.53" y="343.00" font-size="6.6" text-anchor="middle" textLength="34.60" lengthAdjust="spacingAndGlyphs" fill="#1a1a1a">+POM (µM)</text>
<text x="7.10" y="17.60" font-size="12" text-anchor="start" font-weight="bold" fill="#111" style="stroke:#111;stroke-width:0.5px">A</text>
<text x="412.40" y="17.60" font-size="12" text-anchor="start" font-weight="bold" fill="#111" style="stroke:#111;stroke-width:0.5px">B</text>
<text x="462.90" y="17.70" font-size="9" text-anchor="start" textLength="24.70" lengthAdjust="spacingAndGlyphs" fill="#1a1a1a" style="stroke-width:0.2px">STAT4</text>
<rect x="440.65" y="143.93" width="7.50" height="1.32" fill="#a3002a" stroke="#9c0027" stroke-width="0.7"/>
<rect x="453.07" y="144.49" width="7.50" height="0.76" fill="#2e4a7b" stroke="#1f3871" stroke-width="0.7"/>
<rect x="465.49" y="144.86" width="7.50" height="0.39" fill="#6ca543" stroke="#5f9c37" stroke-width="0.7"/>
<rect x="477.91" y="69.51" width="7.50" height="75.74" fill="#a3002a" stroke="#9c0027" stroke-width="0.7"/>
<line x1="481.66" y1="52.60" x2="481.66" y2="69.66" stroke="#3c3c3c" stroke-width="1.4"/>
<rect x="479.56" y="51.60" width="4.20" height="1.25" fill="#1e1e1e"/>
<rect x="490.33" y="122.40" width="7.50" height="22.85" fill="#2e4a7b" stroke="#1f3871" stroke-width="0.7"/>
<line x1="494.08" y1="119.60" x2="494.08" y2="122.55" stroke="#3c3c3c" stroke-width="1.4"/>
<rect x="491.98" y="118.60" width="4.20" height="1.25" fill="#1e1e1e"/>
<rect x="502.75" y="132.24" width="7.50" height="13.01" fill="#6ca543" stroke="#5f9c37" stroke-width="0.7"/>
<line x1="506.50" y1="130.73" x2="506.50" y2="132.39" stroke="#3c3c3c" stroke-width="1.4"/>
<rect x="504.40" y="129.73" width="4.20" height="1.25" fill="#1e1e1e"/>
<line x1="438.50" y1="143.39" x2="513.00" y2="143.39" stroke="#111" stroke-width="0.9" stroke-dasharray="3.2,1.8"/>
<line x1="438.50" y1="30.60" x2="438.50" y2="145.75" stroke="#111" stroke-width="1.25"/>
<line x1="435.30" y1="145.25" x2="438.50" y2="145.25" stroke="#111" stroke-width="1.1"/>
<text x="432.50" y="147.45" font-size="6.5" text-anchor="end" textLength="3.80" lengthAdjust="spacingAndGlyphs" fill="#1a1a1a">0</text>
<line x1="435.30" y1="126.69" x2="438.50" y2="126.69" stroke="#111" stroke-width="1.1"/>
<text x="432.50" y="128.89" font-size="6.5" text-anchor="end" textLength="7.80" lengthAdjust="spacingAndGlyphs" fill="#1a1a1a">10</text>
<line x1="435.30" y1="108.13" x2="438.50" y2="108.13" stroke="#111" stroke-width="1.1"/>
<text x="432.50" y="110.33" font-size="6.5" text-anchor="end" textLength="7.80" lengthAdjust="spacingAndGlyphs" fill="#1a1a1a">20</text>
<line x1="435.30" y1="89.58" x2="438.50" y2="89.58" stroke="#111" stroke-width="1.1"/>
<text x="432.50" y="91.78" font-size="6.5" text-anchor="end" textLength="7.80" lengthAdjust="spacingAndGlyphs" fill="#1a1a1a">30</text>
<line x1="435.30" y1="71.02" x2="438.50" y2="71.02" stroke="#111" stroke-width="1.1"/>
<text x="432.50" y="73.22" font-size="6.5" text-anchor="end" textLength="7.80" lengthAdjust="spacingAndGlyphs" fill="#1a1a1a">40</text>
<line x1="435.30" y1="52.46" x2="438.50" y2="52.46" stroke="#111" stroke-width="1.1"/>
<text x="432.50" y="54.66" font-size="6.5" text-anchor="end" textLength="7.80" lengthAdjust="spacingAndGlyphs" fill="#1a1a1a">50</text>
<line x1="435.30" y1="33.90" x2="438.50" y2="33.90" stroke="#111" stroke-width="1.1"/>
<text x="432.50" y="36.10" font-size="6.5" text-anchor="end" textLength="7.80" lengthAdjust="spacingAndGlyphs" fill="#1a1a1a">60</text>
<line x1="436.80" y1="135.97" x2="438.50" y2="135.97" stroke="#111" stroke-width="1.0"/>
<line x1="436.80" y1="117.41" x2="438.50" y2="117.41" stroke="#111" stroke-width="1.0"/>
<line x1="436.80" y1="98.85" x2="438.50" y2="98.85" stroke="#111" stroke-width="1.0"/>
<line x1="436.80" y1="80.30" x2="438.50" y2="80.30" stroke="#111" stroke-width="1.0"/>
<line x1="436.80" y1="61.74" x2="438.50" y2="61.74" stroke="#111" stroke-width="1.0"/>
<line x1="436.80" y1="43.18" x2="438.50" y2="43.18" stroke="#111" stroke-width="1.0"/>
<line x1="438.00" y1="145.25" x2="513.20" y2="145.25" stroke="#111" stroke-width="1.2"/>
<text x="0" y="0" font-size="7.4" text-anchor="start" textLength="57" lengthAdjust="spacingAndGlyphs" fill="#1a1a1a" style="stroke-width:0.16px" transform="translate(419.6,113.4) rotate(-90)">Relative mRNA expression</text>
<text x="0" y="0" font-size="6.45" text-anchor="end" fill="#1a1a1a" style="stroke-width:0.16px" transform="translate(447.60,152.4) rotate(-45)">Medium</text>
<text x="0" y="0" font-size="6.45" text-anchor="end" fill="#1a1a1a" style="stroke-width:0.16px" transform="translate(460.02,152.4) rotate(-45)">LEN</text>
<text x="0" y="0" font-size="6.45" text-anchor="end" fill="#1a1a1a" style="stroke-width:0.16px" transform="translate(472.44,152.4) rotate(-45)">POM</text>
<text x="0" y="0" font-size="6.45" text-anchor="end" fill="#1a1a1a" style="stroke-width:0.16px" transform="translate(484.86,152.4) rotate(-45)">LPS</text>
<text x="0" y="0" font-size="6.45" text-anchor="end" fill="#1a1a1a" style="stroke-width:0.16px" transform="translate(497.28,152.4) rotate(-45)">LPS LEN</text>
<text x="0" y="0" font-size="6.45" text-anchor="end" fill="#1a1a1a" style="stroke-width:0.16px" transform="translate(509.70,152.4) rotate(-45)">LPS POM</text>
<polyline points="444.40,105.7 444.40,43.1 481.66,43.1 481.66,48.5" fill="none" stroke="#222" stroke-width="1.05"/>
<polyline points="481.66,42.0 481.66,36.4 494.08,36.4 494.08,98.8" fill="none" stroke="#222" stroke-width="1.05"/>
<polyline points="481.66,32.8 481.66,27.5 506.50,27.5 506.50,119.3" fill="none" stroke="#222" stroke-width="1.05"/>
<ellipse cx="463.03" cy="40.00" rx="0.95" ry="0.8" fill="#1a1a1a"/>
<ellipse cx="487.87" cy="33.20" rx="0.95" ry="0.8" fill="#1a1a1a"/>
<ellipse cx="494.08" cy="24.40" rx="0.95" ry="0.8" fill="#1a1a1a"/>
<rect x="0.6" y="0.6" width="518.8" height="349.8" fill="none" stroke="#000" stroke-width="1.3"/>
</svg>
</body></html>
